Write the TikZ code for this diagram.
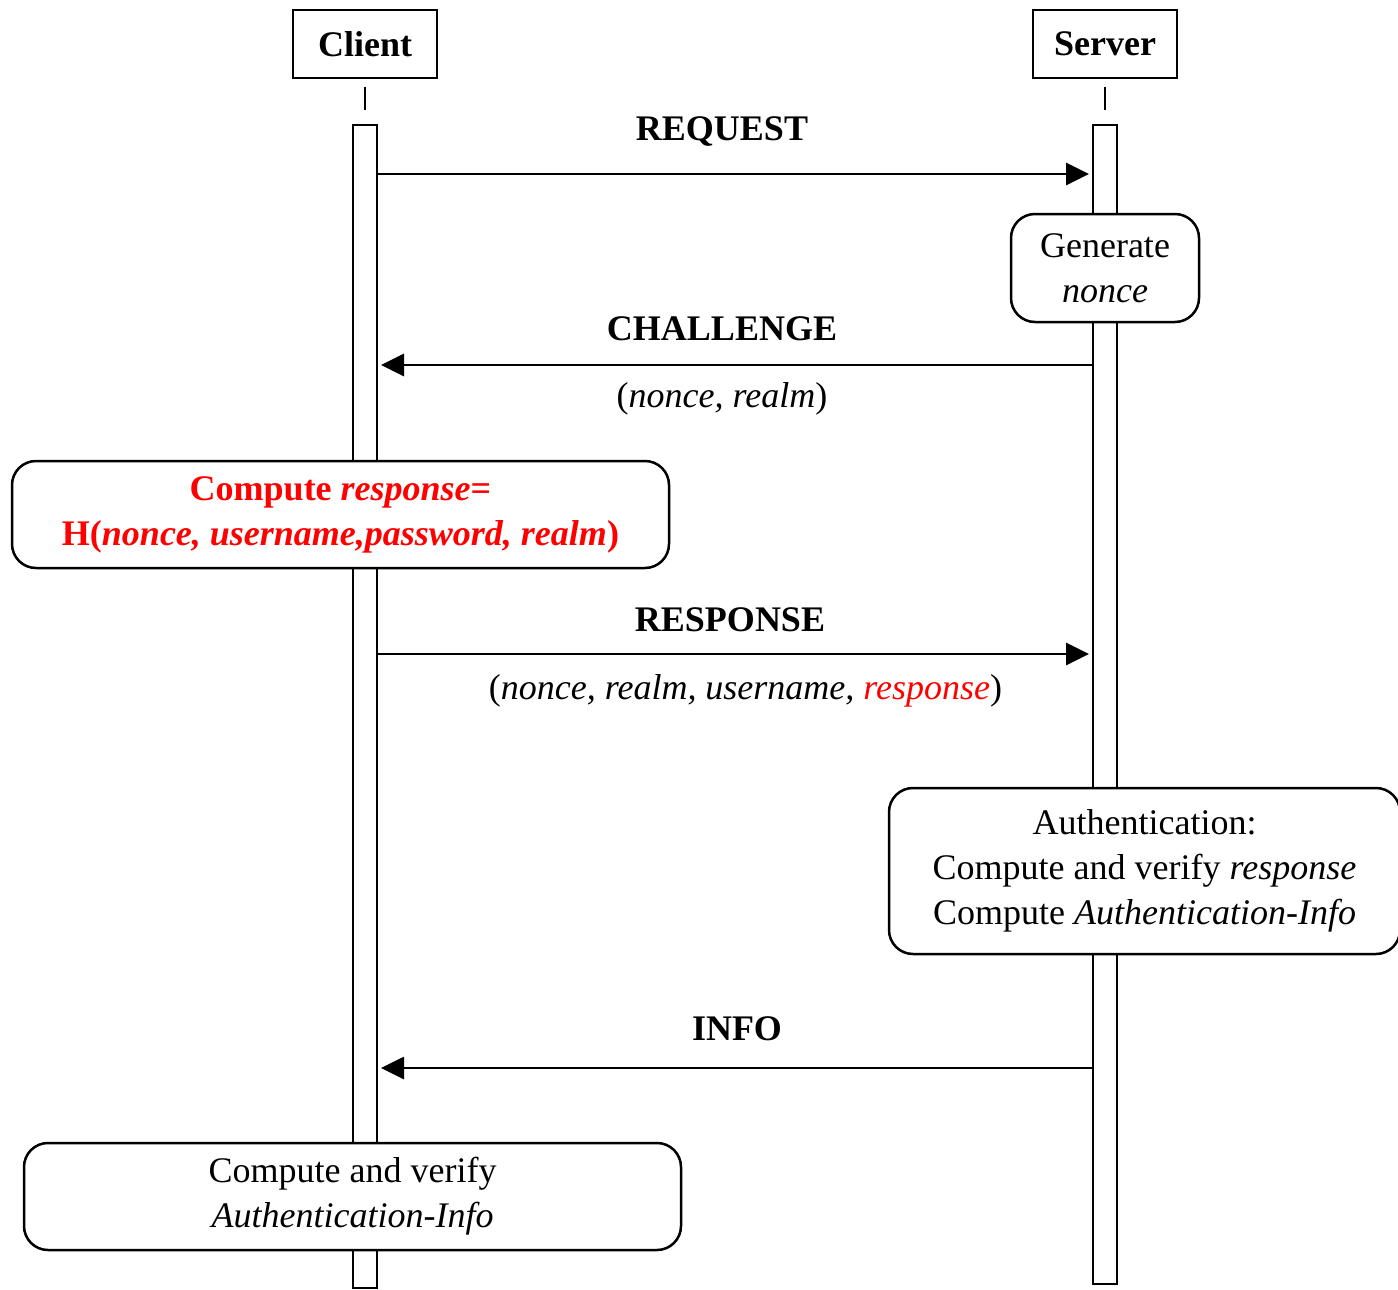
\documentclass[tikz,border=0pt]{standalone}
\usepackage{fontspec}
\setmainfont{Liberation Serif}
\usetikzlibrary{arrows.meta}
\definecolor{myred}{RGB}{255,0,0}
\begin{document}
\begin{tikzpicture}[x=1pt,y=-1pt,
  every node/.style={font=\fontsize{36}{45}\selectfont},
  actor/.style={draw,line width=2.5pt,minimum width=144pt,minimum height=68pt,inner sep=0pt,fill=white},
  bar/.style={draw,line width=2pt,fill=white,minimum width=24pt,inner sep=0pt},
  proc/.style={draw,line width=2.5pt,rounded corners=24pt,fill=white,align=center,inner sep=0pt},
  msg/.style={line width=2.8pt,shorten >=3pt,-{Triangle[length=23pt,width=22pt]}},
  lbl/.style={anchor=base,inner sep=0pt}]
\useasboundingbox (0,0) rectangle (1398,1290);
% lifeline bars
\node[bar,minimum height=1163pt] (cbar) at (365,706.5) {};
\node[bar,minimum height=1159pt] (sbar) at (1105,704.5) {};
% actors
\node[actor] (client) at (365,44) {\textbf{Client}};
\node[actor] (server) at (1105,44) {\textbf{Server}};
\draw[line width=2.5pt] ([yshift=-8pt]client.south) -- ([yshift=14pt]cbar.north);
\draw[line width=2.5pt] ([yshift=-8pt]server.south) -- ([yshift=14pt]sbar.north);
% message rows
\coordinate (yreq) at (0,174);
\coordinate (ych) at (0,365);
\coordinate (yresp) at (0,654);
\coordinate (yinfo) at (0,1068);
% REQUEST
\draw[msg] (cbar.east |- yreq) -- (sbar.west |- yreq);
\node[lbl] (lreq) at (722,140) {\textbf{REQUEST}};
% Generate nonce
\node[proc,minimum width=188pt,minimum height=108pt] (gen) at (1105,268) {Generate\\\textit{nonce}};
% CHALLENGE
\draw[msg] (sbar.west |- ych) -- (cbar.east |- ych);
\node[lbl] (lch) at (722,340) {\textbf{CHALLENGE}};
\node[lbl] (lchp) at (722,407) {(\textit{nonce, realm})};
% Compute response
\node[proc,minimum width=657pt,minimum height=107pt,text=myred] (comp) at (340.5,514.5)
  {\textbf{Compute \textit{response}=}\\\textbf{H(\textit{nonce, username,password, realm})}};
% RESPONSE
\draw[msg] (cbar.east |- yresp) -- (sbar.west |- yresp);
\node[lbl] (lresp) at (730,631) {\textbf{RESPONSE}};
\node[lbl] (lrespp) at (745.5,699) {(\textit{nonce, realm, username, \textcolor{myred}{response}})};
% Authentication
\node[proc,minimum width=511pt,minimum height=166pt] (auth) at (1144.5,871)
  {Authentication:\\Compute and verify \textit{response}\\Compute \textit{Authentication-Info}};
% INFO
\draw[msg] (sbar.west |- yinfo) -- (cbar.east |- yinfo);
\node[lbl] (linfo) at (737,1040) {\textbf{INFO}};
% Compute and verify
\node[proc,minimum width=657pt,minimum height=107pt] (ver) at (352.5,1196.5)
  {Compute and verify\\\textit{Authentication-Info}};
\end{tikzpicture}
\end{document}
